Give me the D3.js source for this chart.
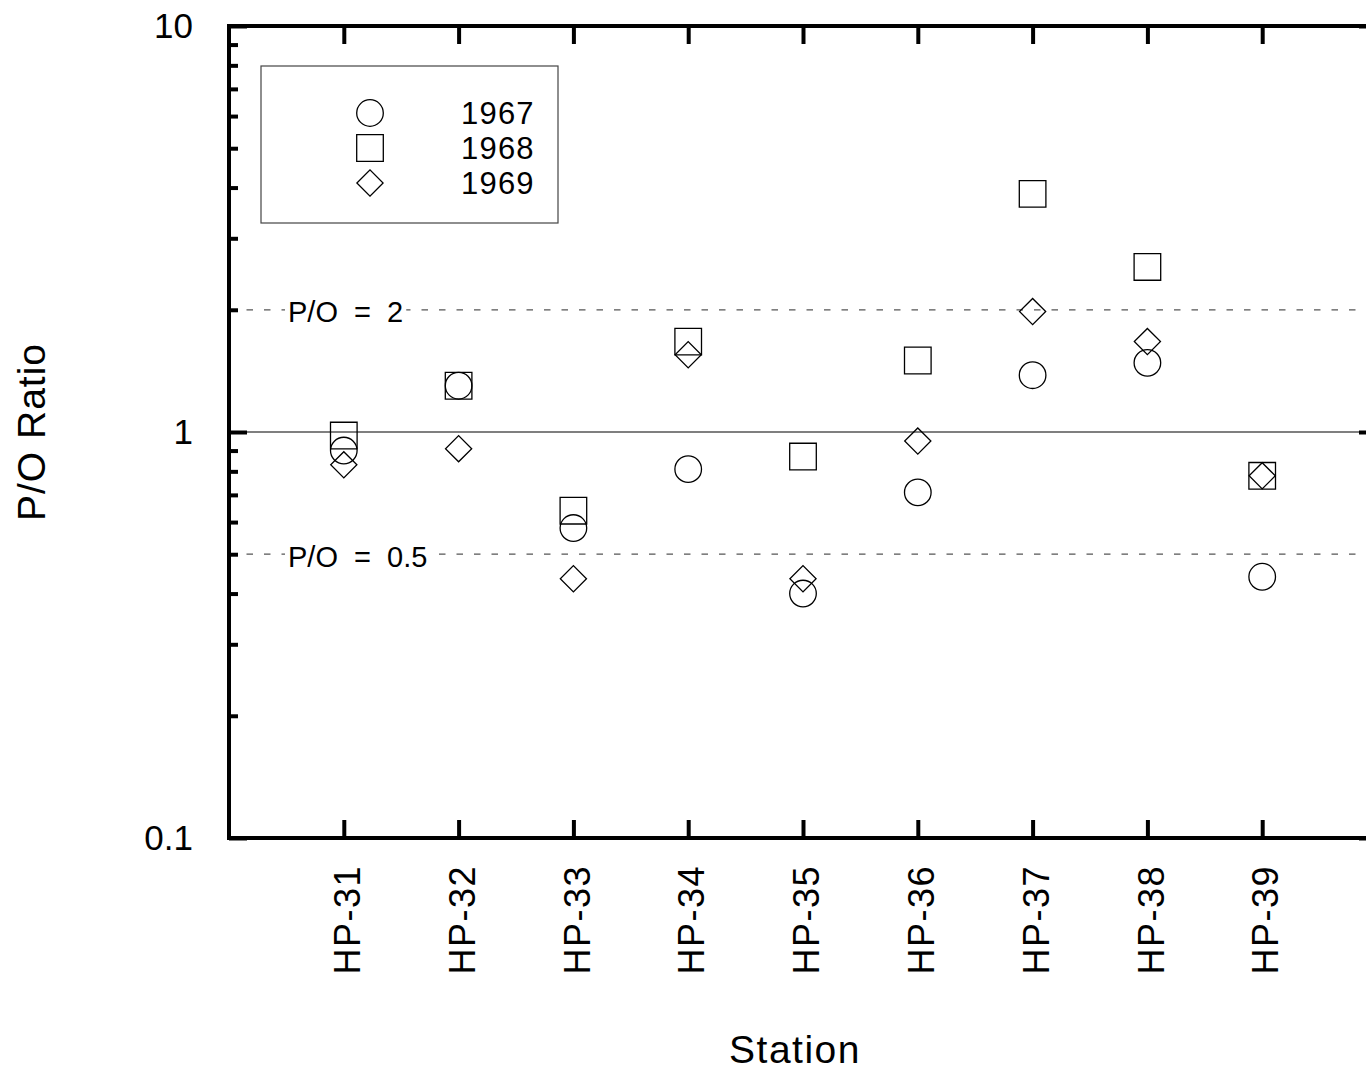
<!DOCTYPE html>
<html>
<head>
<meta charset="utf-8">
<script src="https://cdn.jsdelivr.net/npm/d3@7"></script>
<style>
  body { margin: 0; background: #fff; }
  svg { display: block; font-family: "Liberation Sans", Arial, sans-serif; }
</style>
</head>
<body>
<div id="chart"></div>
<script>
// data
const stations = ["HP-31", "HP-32", "HP-33", "HP-34", "HP-35", "HP-36", "HP-37", "HP-38", "HP-39"];
const ratio1967 = [0.90, 1.30, 0.58, 0.81, 0.40, 0.71, 1.38, 1.48, 0.44];
const ratio1968 = [0.98, 1.30, 0.64, 1.67, 0.87, 1.50, 3.86, 2.55, 0.78];
const ratio1969 = [0.83, 0.91, 0.435, 1.55, 0.435, 0.95, 1.98, 1.67, 0.78];
const years = ["1967", "1968", "1969"];
const yMajorTicks = [0.1, 1, 10];
const yMinorTicks = [0.2, 0.3, 0.4, 0.5, 0.6, 0.7, 0.8, 0.9, 2, 3, 4, 5, 6, 7, 8, 9];
const refLines = [{ value: 2, label: "P/O  =  2" }, { value: 0.5, label: "P/O  =  0.5" }];

const width = 1366, height = 1071;
const plotLeft = 229, plotRight = 1377, plotTop = 26, plotBottom = 838;

const svg = d3.select("#chart").append("svg")
  .attr("width", width)
  .attr("height", height);

const x = d3.scalePoint().domain(stations).range([plotLeft, plotRight]).padding(1);
const y = d3.scaleLog().domain([0.1, 10]).range([plotBottom, plotTop]);

// reference lines
svg.append("line")
  .attr("x1", plotLeft).attr("x2", plotRight)
  .attr("y1", y(1)).attr("y2", y(1))
  .attr("stroke", "#555").attr("stroke-width", 1.4);

refLines.forEach(r => {
  svg.append("line")
    .attr("x1", plotLeft).attr("x2", plotRight)
    .attr("y1", y(r.value)).attr("y2", y(r.value))
    .attr("stroke", "#555").attr("stroke-width", 1.2)
    .attr("stroke-dasharray", "6.5,11");
  const t = svg.append("text")
    .attr("x", 288).attr("y", y(r.value) + 12.5)
    .attr("font-size", 29)
    .style("white-space", "pre")
    .text(r.label);
  const bb = t.node().getBBox();
  svg.insert("rect", () => t.node())
    .attr("x", bb.x - 3).attr("y", bb.y)
    .attr("width", bb.width + 6).attr("height", bb.height)
    .attr("fill", "#fff");
});

// axes (ticks pointing inward)
function styleAxis(g) {
  g.select(".domain").remove();
  g.selectAll(".tick line").attr("stroke", "#000").attr("stroke-width", 4);
  g.selectAll(".tick text").attr("fill", "#000");
}

svg.append("g")
  .attr("transform", `translate(${plotLeft},0)`)
  .call(d3.axisLeft(y).tickValues(yMajorTicks).tickSize(-18).tickPadding(36)
    .tickFormat(d3.format("~g")))
  .call(styleAxis)
  .call(g => g.attr("font-size", null).attr("font-family", null))
  .call(g => g.selectAll(".tick text").attr("font-size", 35));

svg.append("g")
  .attr("transform", `translate(${plotLeft},0)`)
  .call(d3.axisLeft(y).tickValues(yMinorTicks).tickSize(-9).tickFormat(""))
  .call(styleAxis);

svg.append("g")
  .attr("transform", `translate(${plotRight},0)`)
  .call(d3.axisRight(y).tickValues(yMajorTicks).tickSize(-18).tickFormat(""))
  .call(styleAxis);

svg.append("g")
  .attr("transform", `translate(0,${plotBottom})`)
  .call(d3.axisBottom(x).tickSize(-18).tickFormat(""))
  .call(styleAxis);

svg.append("g")
  .attr("transform", `translate(0,${plotTop})`)
  .call(d3.axisTop(x).tickSize(-18).tickFormat(""))
  .call(styleAxis);

// frame
svg.append("rect")
  .attr("x", plotLeft).attr("y", plotTop)
  .attr("width", plotRight - plotLeft).attr("height", plotBottom - plotTop)
  .attr("fill", "none").attr("stroke", "#000").attr("stroke-width", 4);

// station labels
svg.append("g").selectAll("text")
  .data(stations)
  .join("text")
  .attr("transform", d => `translate(${x(d)},865) rotate(-90)`)
  .attr("dy", "0.45em")
  .attr("text-anchor", "end")
  .attr("font-size", 36)
  .attr("letter-spacing", 1.5)
  .text(d => d);

// axis titles
svg.append("text")
  .attr("transform", `translate(45,432) rotate(-90)`)
  .attr("text-anchor", "middle")
  .attr("font-size", 39)
  .attr("letter-spacing", 1)
  .text("P/O Ratio");

svg.append("text")
  .attr("x", 795).attr("y", 1063)
  .attr("text-anchor", "middle")
  .attr("font-size", 39)
  .attr("letter-spacing", 1.5)
  .text("Station");

// markers
const symbols = [
  { path: d3.symbol(d3.symbolCircle, Math.PI * 13.3 * 13.3)(), rot: 0 },
  { path: d3.symbol(d3.symbolSquare, 26.6 * 26.6)(), rot: 0 },
  { path: d3.symbol(d3.symbolSquare, 18.5 * 18.5)(), rot: 45 }
];
const series = [ratio1967, ratio1968, ratio1969];

series.forEach((vals, si) => {
  svg.append("g").selectAll("path")
    .data(vals)
    .join("path")
    .attr("d", symbols[si].path)
    .attr("transform", (d, i) => `translate(${x(stations[i])},${y(d)}) rotate(${symbols[si].rot})`)
    .attr("fill", "none")
    .attr("stroke", "#000")
    .attr("stroke-width", 1.3);
});

// legend
const legend = svg.append("g");
legend.append("rect")
  .attr("x", 261).attr("y", 66)
  .attr("width", 297).attr("height", 157)
  .attr("fill", "#fff").attr("stroke", "#444").attr("stroke-width", 1.2);

years.forEach((yr, i) => {
  const cy = 113 + i * 35;
  legend.append("path")
    .attr("d", symbols[i].path)
    .attr("transform", `translate(370,${cy}) rotate(${symbols[i].rot})`)
    .attr("fill", "none").attr("stroke", "#000").attr("stroke-width", 1.3);
  legend.append("text")
    .attr("x", 461).attr("y", cy)
    .attr("dy", "0.36em")
    .attr("font-size", 31)
    .attr("letter-spacing", 1.2)
    .text(yr);
});
</script>
</body>
</html>
